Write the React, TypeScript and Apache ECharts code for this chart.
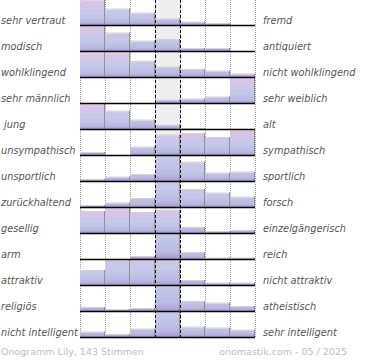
import React, { useEffect, useRef } from 'react';
import * as echarts from 'echarts';

const leftLabels = ['sehr vertraut', 'modisch', 'wohlklingend', 'sehr männlich', ' jung', 'unsympathisch', 'unsportlich', 'zurückhaltend', 'gesellig', 'arm', 'attraktiv', 'religiös', 'nicht intelligent'];
const rightLabels = ['fremd', 'antiquiert', 'nicht wohlklingend', 'sehr weiblich', 'alt', 'sympathisch', 'sportlich', 'forsch', 'einzelgängerisch', 'reich', 'nicht attraktiv', 'atheistisch', 'sehr intelligent'];

// share per answer column, 100 = full row height (higher values are cut off)
const vertraut = [100, 64, 48, 24, 12, 6, 0];
const modisch = [100, 72, 40, 46, 10, 10, 0];
const wohlklingend = [97, 97, 64, 40, 30, 24, 12];
const maennlich = [0, 0, 0, 12, 16, 24, 100];
const jung = [100, 72, 36, 16, 2, 0, 0];
const sympathisch = [10, 0, 32, 80, 86, 70, 100];
const sportlich = [6, 16, 26, 180, 76, 32, 36];
const forsch = [6, 16, 34, 170, 70, 56, 40];
const gesellig = [86, 100, 82, 90, 22, 6, 10];
const reich = [0, 0, 10, 200, 26, 4, 4];
const attraktiv = [58, 140, 130, 150, 18, 8, 8];
const religioes = [14, 6, 10, 220, 38, 32, 18];
const intelligent = [20, 10, 32, 190, 40, 36, 28];

const footerLeft = 'Onogramm Lily, 143 Stimmen';
const footerRight = 'onomastik.com - 05 / 2025';

const rowsValues = [vertraut, modisch, wohlklingend, maennlich, jung, sympathisch, sportlich, forsch, gesellig, reich, attraktiv, religioes, intelligent];

const BASE = 25.5 / 26;
const FULL = 25 / 26;
const STOPS = [
  { offset: 0, color: '#dfc5e6' },
  { offset: 0.3, color: '#d0c5e8' },
  { offset: 0.55, color: '#c3c9e9' },
  { offset: 0.85, color: '#bab9e2' },
  { offset: 0.95, color: '#aca5d6' },
  { offset: 1, color: '#9a90c6' },
];

export default function App() {
  const ref = useRef<HTMLDivElement>(null);
  useEffect(() => {
    if (!ref.current) return;
    const chart = echarts.init(ref.current, undefined, { renderer: 'svg' });
    const barData: number[][] = [];
    rowsValues.forEach((vals, r) => vals.forEach((v, c) => barData.push([c, r, v])));
    const rowData = rowsValues.map((_, r) => [0, r]);
    const labelFont = { fontFamily: 'DejaVu Sans', fontSize: 9.8, fontStyle: 'italic' as const, color: '#555' };
    chart.setOption({
      animation: false,
      grid: { left: 80, top: 0, width: 175, height: 338, containLabel: false, outerBoundsMode: 'none' },
      xAxis: {
        type: 'value', min: 0, max: 7, interval: 1,
        axisLine: { show: false }, axisTick: { show: false }, axisLabel: { show: false },
        splitLine: { show: true, lineStyle: { color: '#999', type: [1, 1], width: 1 } },
        splitArea: { show: true, areaStyle: { color: ['rgba(0,0,0,0)', 'rgba(0,0,0,0)', 'rgba(0,0,0,0)', '#eeeeee', 'rgba(0,0,0,0)', 'rgba(0,0,0,0)', 'rgba(0,0,0,0)'] } },
      },
      yAxis: [
        { type: 'value', min: 0, max: 13, inverse: true, show: false },
        {
          type: 'category', data: leftLabels, inverse: true, position: 'left',
          axisLine: { show: false }, axisTick: { show: false }, splitLine: { show: false },
          axisLabel: { ...labelFont, interval: 0, margin: 79, align: 'left', verticalAlign: 'top', lineHeight: 14 },
        },
        {
          type: 'category', data: rightLabels, inverse: true, position: 'right',
          axisLine: { show: false }, axisTick: { show: false }, splitLine: { show: false },
          axisLabel: { ...labelFont, interval: 0, margin: 8, align: 'left', verticalAlign: 'top', lineHeight: 14 },
        },
      ],
      series: [
        {
          type: 'custom', name: 'bars', xAxisIndex: 0, yAxisIndex: 0, z: 2,
          data: barData,
          renderItem: (params: any, api: any) => {
            const c = api.value(0), r = api.value(1), v = api.value(2);
            if (!v) return undefined;
            const p0 = api.coord([c, r]);
            const p1 = api.coord([c + 1, r]);
            const rowPx = api.size([0, 1])[1];
            const base = p0[1] + rowPx * BASE;
            const full = rowPx * FULL;
            const h = (Math.min(v, 100) / 100) * full;
            const top = base - h;
            const gTop = base - (Math.max(v, 100) / 100) * full;
            const x0 = p0[0], x1 = p1[0];
            return {
              type: 'group',
              children: [
                { type: 'rect', shape: { x: x0, y: top - 1, width: x1 - x0, height: 1 }, style: { fill: '#d2d2d2' } },
                { type: 'rect', shape: { x: x0, y: top, width: x1 - x0, height: h }, style: { fill: new echarts.graphic.LinearGradient(0, gTop, 0, base, STOPS, true) } },
                { type: 'rect', shape: { x: x1 - 1, y: top - 1, width: 1, height: h + 1 }, style: { fill: '#8f8f8f' } },
              ],
            };
          },
        },
        {
          type: 'custom', name: 'baselines', xAxisIndex: 0, yAxisIndex: 0, z: 3,
          data: rowData,
          renderItem: (params: any, api: any) => {
            const r = api.value(1);
            const p0 = api.coord([0, r]);
            const p1 = api.coord([7, r]);
            const rowPx = api.size([0, 1])[1];
            const y = p0[1] + rowPx * BASE;
            return { type: 'line', shape: { x1: p0[0], y1: y, x2: p1[0], y2: y }, style: { stroke: '#000', lineWidth: 1.5 } };
          },
          markLine: {
            silent: true, symbol: 'none', label: { show: false },
            lineStyle: { color: '#000', type: [3, 2], width: 1 },
            data: [{ xAxis: 3 }, { xAxis: 4 }],
          },
        },
      ],
      graphic: [
        { type: 'text', left: 1, top: 346, style: { text: footerLeft, fill: '#bdbdbd', font: '9.5px "DejaVu Sans"' } },
        { type: 'text', right: 23, top: 346, style: { text: footerRight, fill: '#bdbdbd', font: '9.5px "DejaVu Sans"' } },
      ],
    });
    return () => chart.dispose();
  }, []);
  return <div ref={ref} style={{ position: 'absolute', left: 0, top: 0, width: 370, height: 360 }} />;
}
